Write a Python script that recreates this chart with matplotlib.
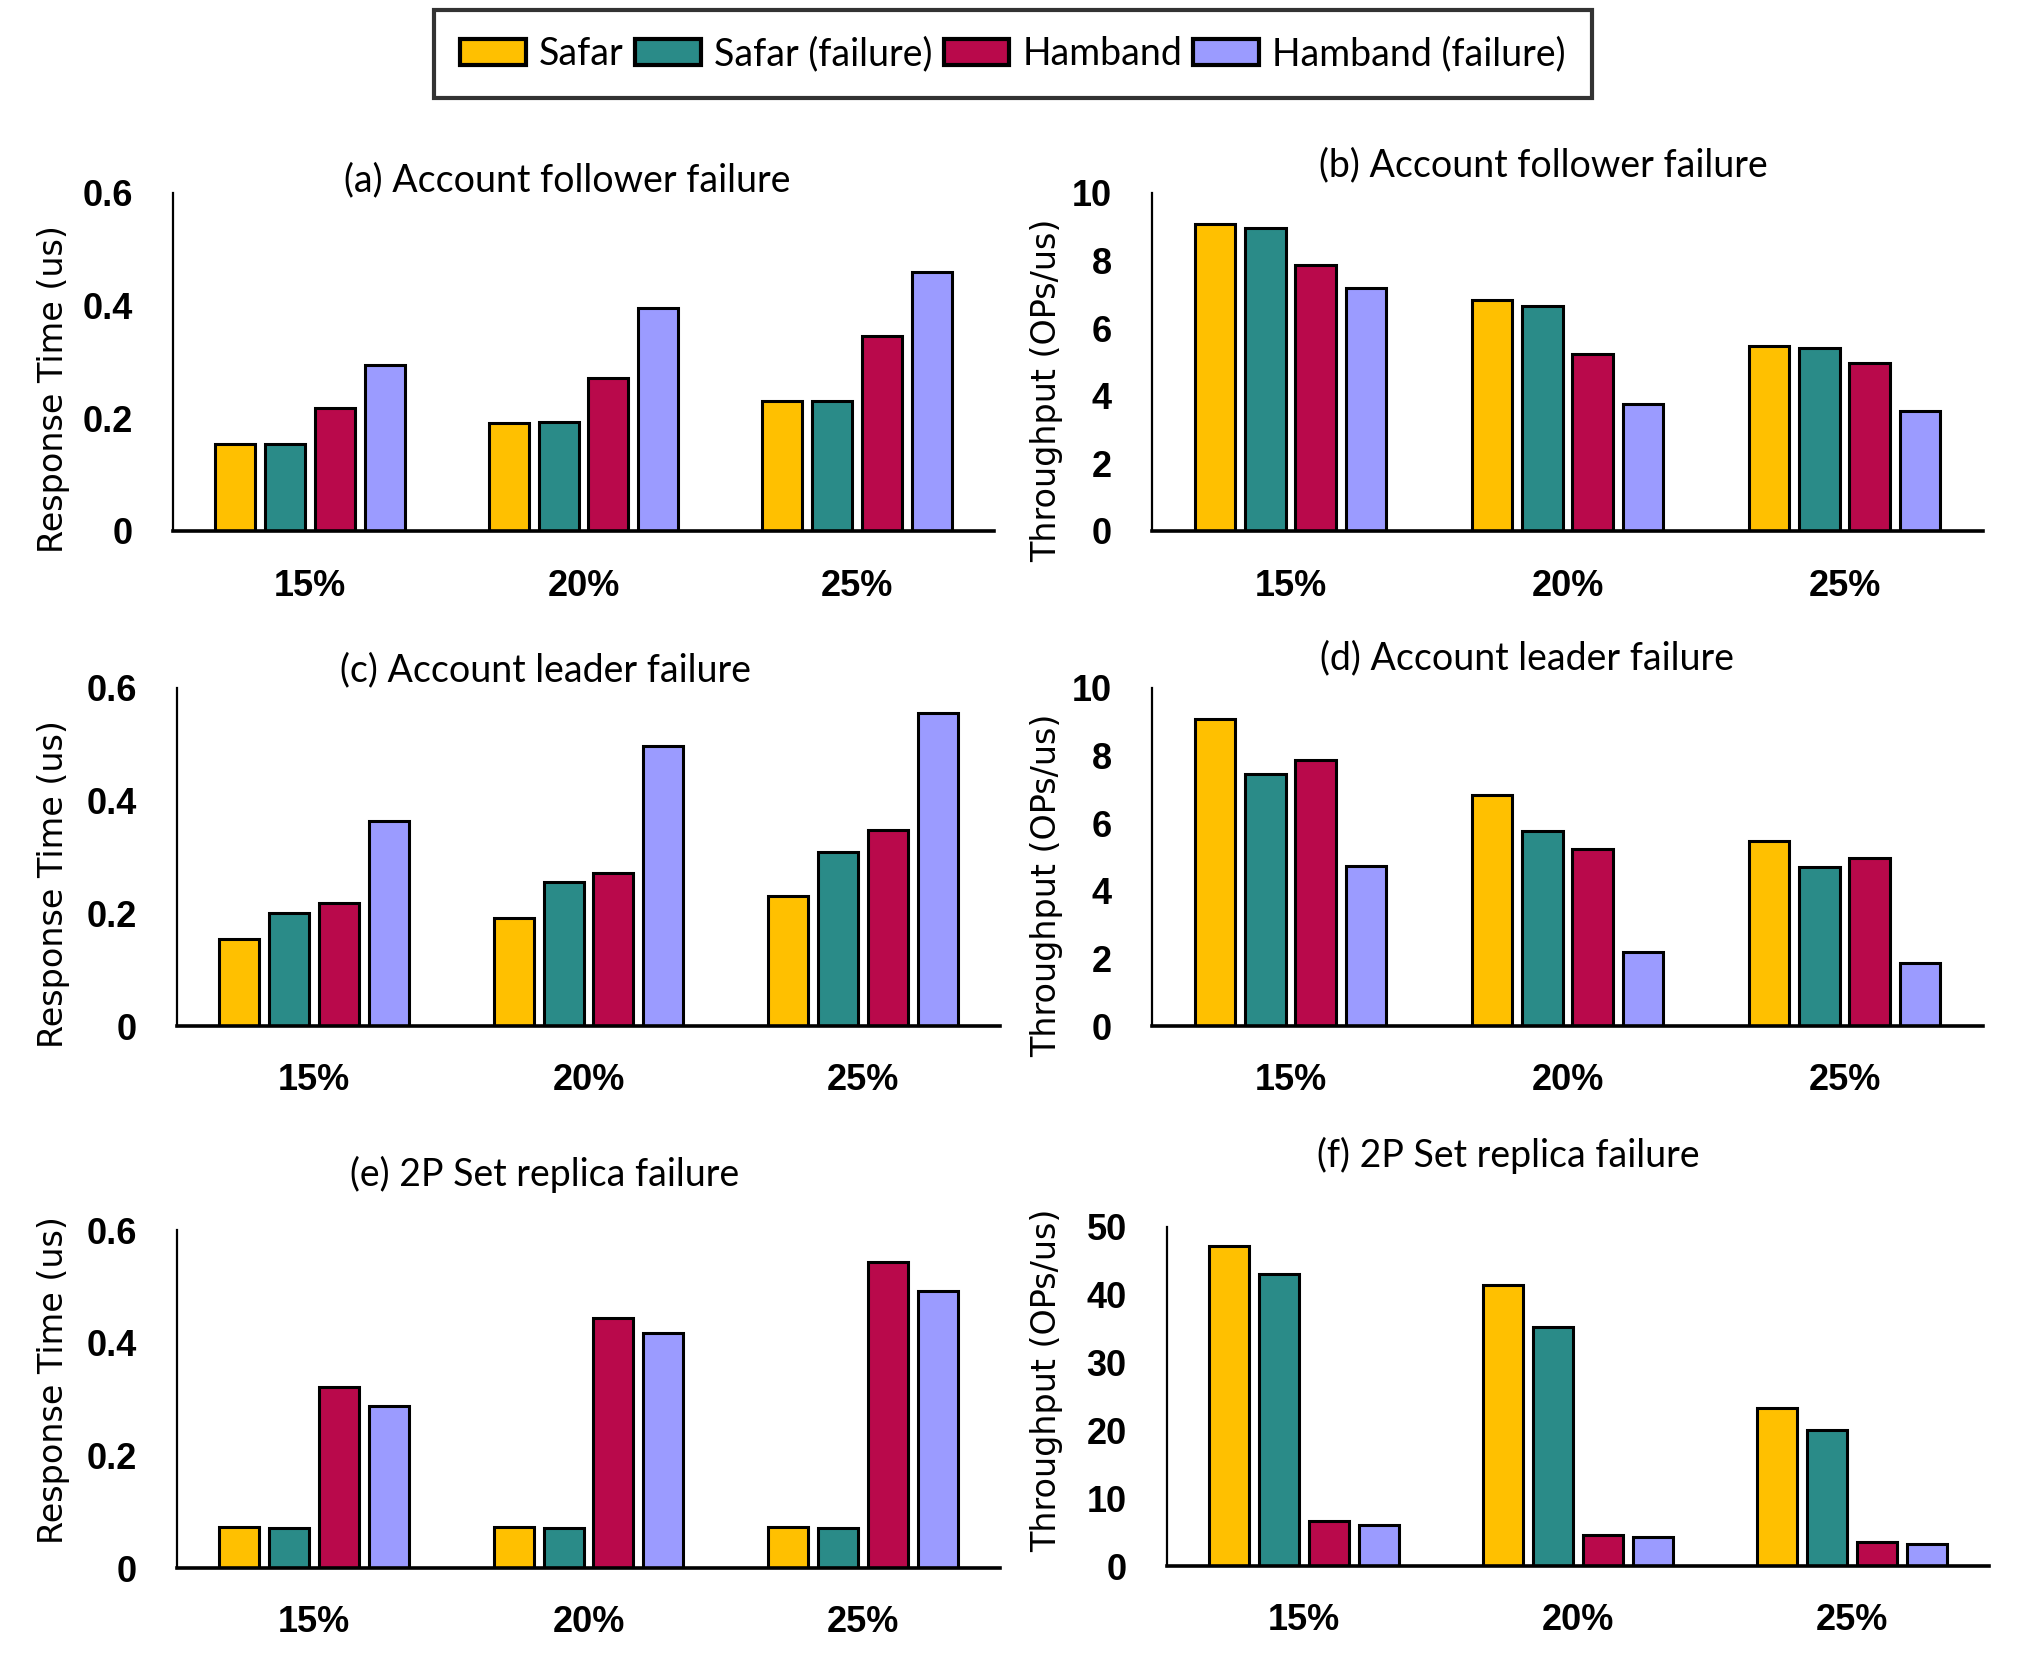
import matplotlib
matplotlib.use("Agg")
import matplotlib.pyplot as plt
import numpy as np
from matplotlib.patches import Patch

categories = ['15%', '20%', '25%']
series = ['Safar', 'Safar (failure)', 'Hamband', 'Hamband (failure)']
colors = ['#FFC000', '#2A8B88', '#B9094B', '#9B9BFF']

a_safar = [0.154, 0.191, 0.230]
a_safar_fail = [0.154, 0.193, 0.230]
a_hamband = [0.218, 0.271, 0.347]
a_hamband_fail = [0.294, 0.395, 0.459]

b_safar = [9.07, 6.82, 5.46]
b_safar_fail = [8.95, 6.66, 5.40]
b_hamband = [7.86, 5.23, 4.96]
b_hamband_fail = [7.19, 3.75, 3.54]

c_safar = [0.154, 0.192, 0.231]
c_safar_fail = [0.200, 0.255, 0.309]
c_hamband = [0.218, 0.271, 0.348]
c_hamband_fail = [0.364, 0.497, 0.555]

d_safar = [9.07, 6.83, 5.47]
d_safar_fail = [7.45, 5.76, 4.70]
d_hamband = [7.86, 5.23, 4.97]
d_hamband_fail = [4.73, 2.19, 1.86]

e_safar = [0.073, 0.073, 0.073]
e_safar_fail = [0.071, 0.071, 0.071]
e_hamband = [0.322, 0.444, 0.544]
e_hamband_fail = [0.288, 0.418, 0.491]

f_safar = [47.2, 41.4, 23.3]
f_safar_fail = [43.0, 35.3, 20.0]
f_hamband = [6.7, 4.6, 3.6]
f_hamband_fail = [6.0, 4.3, 3.3]

titles = ['(a) Account follower failure', '(b) Account follower failure',
          '(c) Account leader failure', '(d) Account leader failure',
          '(e) 2P Set replica failure', '(f) 2P Set replica failure']
rt_label = 'Response Time (us)'
tp_label = 'Throughput (OPs/us)'
rt_ticks = [0, 0.2, 0.4, 0.6]
rt_ticklabels = ['0', '0.2', '0.4', '0.6']
tp_ticks10 = [0, 2, 4, 6, 8, 10]
tp_ticks50 = [0, 10, 20, 30, 40, 50]

W, H = 2041, 1679
fig = plt.figure(figsize=(W / 100, H / 100), dpi=100)

TICKFONT = dict(family=['Liberation Sans', 'DejaVu Sans'], weight='bold', size=26)
TITLEFONT = dict(family=['Lato', 'DejaVu Sans'], size=27)
YLFONT = dict(family=['DejaVu Sans'], size=24)

# (data, ticks, ticklabels, ylabel, axes box px (l, r, top, bottom), title pos, ylabel pos)
panels = [
    ([a_safar, a_safar_fail, a_hamband, a_hamband_fail], rt_ticks, rt_ticklabels, rt_label,
     (173, 994, 193, 531), (567, 180), (54, 389)),
    ([b_safar, b_safar_fail, b_hamband, b_hamband_fail], tp_ticks10, None, tp_label,
     (1152, 1983, 193, 531), (1543, 165), (1047, 390)),
    ([c_safar, c_safar_fail, c_hamband, c_hamband_fail], rt_ticks, rt_ticklabels, rt_label,
     (177, 1000, 688, 1026), (545, 670), (54, 884)),
    ([d_safar, d_safar_fail, d_hamband, d_hamband_fail], tp_ticks10, None, tp_label,
     (1152, 1983, 688, 1026), (1527, 658), (1047, 885)),
    ([e_safar, e_safar_fail, e_hamband, e_hamband_fail], rt_ticks, rt_ticklabels, rt_label,
     (177, 1000, 1230, 1568), (545, 1174), (54, 1380)),
    ([f_safar, f_safar_fail, f_hamband, f_hamband_fail], tp_ticks50, None, tp_label,
     (1167, 1989, 1227, 1566), (1508, 1155), (1047, 1380)),
]

x = np.arange(len(categories))
pitch = 0.182
bw = 0.146
for (data, ticks, tlabels, ylab, box, tpos, ypos), title in zip(panels, titles):
    l, r, t, b = box
    ax = fig.add_axes([l / W, 1 - b / H, (r - l) / W, (b - t) / H])
    for i, (vals, col) in enumerate(zip(data, colors)):
        ax.bar(x + (i - 1.5) * pitch, vals, width=bw, color=col,
               edgecolor='black', linewidth=2.2, zorder=3)
    ax.set_xlim(-0.5, 2.5)
    ax.set_ylim(0, ticks[-1])
    ax.set_yticks(ticks)
    if tlabels is not None:
        ax.set_yticklabels(tlabels)
    else:
        ax.set_yticklabels([str(v) for v in ticks])
    ax.set_xticks(x)
    ax.set_xticklabels(categories)
    for lab in ax.get_xticklabels() + ax.get_yticklabels():
        lab.set_fontproperties(matplotlib.font_manager.FontProperties(**TICKFONT))
    ax.tick_params(axis='y', length=0, pad=29)
    ax.tick_params(axis='x', length=0, pad=27)
    for s in ['top', 'right']:
        ax.spines[s].set_visible(False)
    ax.spines['left'].set_linewidth(1.6)
    ax.spines['bottom'].set_linewidth(2.6)
    ax.spines['bottom'].set_zorder(5)
    ax.set_facecolor('none')
    fig.text(tpos[0] / W, 1 - tpos[1] / H, title, ha='center', va='center', **TITLEFONT)
    fig.text(ypos[0] / W, 1 - ypos[1] / H, ylab, ha='center', va='center',
             rotation=90, **YLFONT)

handles = [Patch(facecolor=c, edgecolor='black', linewidth=3.0) for c in colors]
leg = fig.legend(handles, series, loc='center', bbox_to_anchor=(1013 / W, 1 - 54 / H),
                 ncol=4, frameon=True, fancybox=False, edgecolor='black',
                 prop=matplotlib.font_manager.FontProperties(family=['Lato', 'DejaVu Sans'], size=27),
                 handlelength=1.75, handleheight=0.72, handletextpad=0.35,
                 columnspacing=0.3, borderpad=0.7, borderaxespad=0)
leg.get_frame().set_linewidth(3.0)

fig.savefig('out.png', dpi=100)
